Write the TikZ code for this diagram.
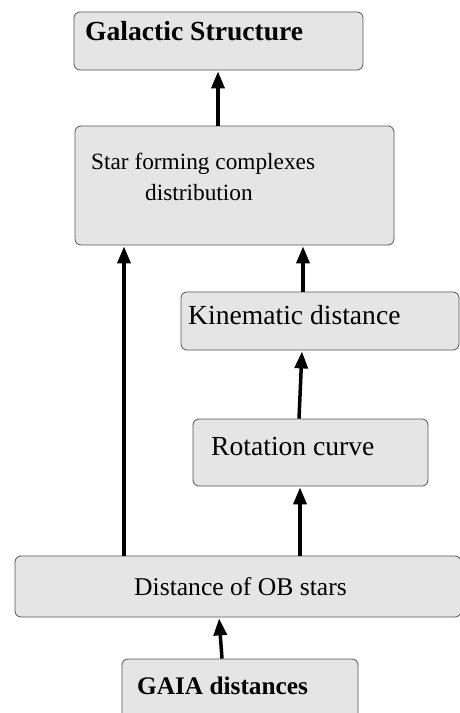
\documentclass[tikz,border=0pt]{standalone}
\usepackage{fontspec}
\setmainfont{Liberation Serif}
\usetikzlibrary{arrows.meta}
\definecolor{boxfill}{HTML}{E5E5E5}
\definecolor{boxline}{HTML}{555555}
\tikzset{
  box/.style={draw=boxline, line width=0.8pt, fill=boxfill, rounded corners=6pt, inner sep=0pt},
  arr/.style={line width=3.5pt, -{Triangle[length=17pt,width=13pt]}, shorten >=1pt},
  lbl/.style={anchor=base west, inner sep=0pt}
}
\begin{document}
\begin{tikzpicture}[x=1pt,y=-1pt]
\useasboundingbox (0,0) rectangle (460,713);
\clip (0,0) rectangle (460,713);
% boxes
\node[box, minimum width=289pt, minimum height=58pt] (gal) at (218.5,41) {};
\node[box, minimum width=319pt, minimum height=119pt] (sfc) at (234.5,185.5) {};
\node[box, minimum width=278pt, minimum height=58pt] (kin) at (320,321) {};
\node[box, minimum width=235pt, minimum height=67pt] (rot) at (310.5,452.5) {};
\node[box, minimum width=446pt, minimum height=61pt] (ob) at (238,586.5) {};
\node[box, minimum width=236pt, minimum height=70pt] (gaia) at (240,694) {};
% labels
\node[lbl, font=\fontsize{27.6}{30}\selectfont\bfseries] (tgal) at (85,40) {Galactic Structure};
\node[lbl, font=\fontsize{23.3}{26}\selectfont] (tsfc1) at (91,169) {Star forming complexes};
\node[lbl, font=\fontsize{23.3}{26}\selectfont] (tsfc2) at (145,200) {distribution};
\node[lbl, font=\fontsize{27.6}{30}\selectfont] (tkin) at (188,324) {Kinematic distance};
\node[lbl, font=\fontsize{27.6}{30}\selectfont] (trot) at (211,455) {Rotation curve};
\node[lbl, font=\fontsize{25.6}{28}\selectfont] (tob) at (134,595) {Distance of OB stars};
\node[lbl, font=\fontsize{25.3}{28}\selectfont\bfseries] (tgaia) at (137,694) {GAIA distances};
% x positions of connectors
\coordinate (xa) at (218,0);
\coordinate (xb) at (303,0);
\coordinate (xc1) at (299,0);
\coordinate (xc2) at (302,0);
\coordinate (xd) at (300,0);
\coordinate (xe) at (124,0);
\coordinate (xf1) at (222,0);
\coordinate (xf2) at (219,0);
% connectors
\draw[arr] (sfc.north -| xa) -- (gal.south -| xa);
\draw[arr] (kin.north -| xb) -- (sfc.south -| xb);
\draw[arr] (rot.north -| xc1) -- (kin.south -| xc2);
\draw[arr] (ob.north -| xd) -- (rot.south -| xd);
\draw[arr] (ob.north -| xe) -- (sfc.south -| xe);
\draw[arr] (gaia.north -| xf1) -- (ob.south -| xf2);
\end{tikzpicture}
\end{document}
